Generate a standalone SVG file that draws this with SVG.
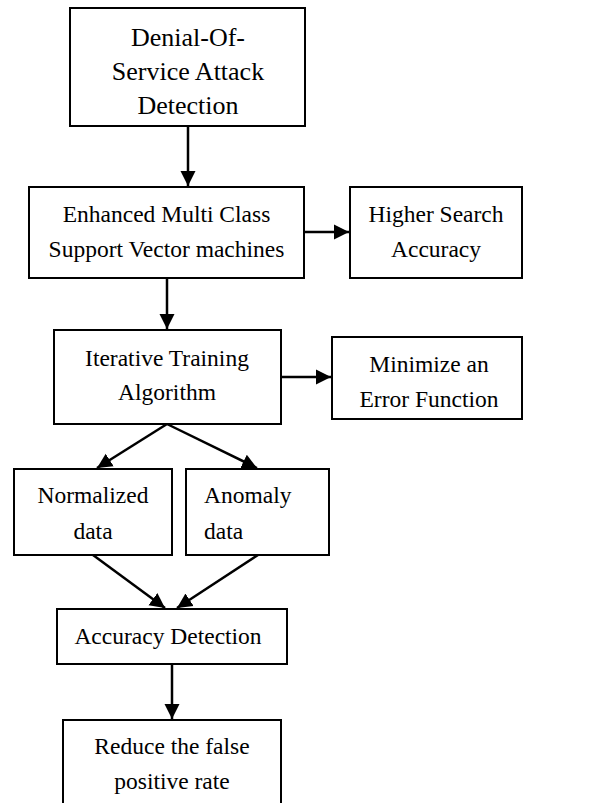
<svg xmlns="http://www.w3.org/2000/svg" width="594" height="803" viewBox="0 0 594 803">
<style>
.box{fill:#fff;stroke:#000;stroke-width:2}
.t{font-family:'Liberation Serif','Times New Roman',serif;font-size:23.5px;fill:#000;text-anchor:middle}
.big{font-size:26px}
.tl{text-anchor:start}
.c{stroke:#000;stroke-width:2.5;fill:none;marker-end:url(#ah)}
</style>
<defs>
<marker id="ah" markerUnits="userSpaceOnUse" markerWidth="16" markerHeight="16" viewBox="0 0 16 16" refX="15" refY="8" orient="auto">
<path d="M0,0.5 L15,8 L0,15.5 Z" fill="#000"/>
</marker>
</defs>
<rect width="594" height="803" fill="#fff"/>
<g id="connectors">
<line class="c" x1="188" y1="126" x2="188" y2="186"/>
<line class="c" x1="304" y1="232" x2="349" y2="232"/>
<line class="c" x1="167" y1="278" x2="167" y2="329"/>
<line class="c" x1="281" y1="377" x2="331" y2="377"/>
<line class="c" x1="167" y1="424" x2="97" y2="468"/>
<line class="c" x1="167" y1="424" x2="257" y2="468"/>
<line class="c" x1="93" y1="555" x2="165" y2="608"/>
<line class="c" x1="258" y1="555" x2="177" y2="608"/>
<line class="c" x1="172" y1="664" x2="172" y2="719"/>
</g>
<g id="n1">
<rect class="box" x="70" y="8" width="235" height="118"/>
<text class="t big" x="188" y="46">Denial-Of-</text>
<text class="t big" x="188" y="80">Service Attack</text>
<text class="t big" x="188" y="114">Detection</text>
</g>
<g id="n2">
<rect class="box" x="29" y="187" width="275" height="91"/>
<text class="t" x="166.5" y="222">Enhanced Multi Class</text>
<text class="t" x="166.5" y="257">Support Vector machines</text>
</g>
<g id="n3">
<rect class="box" x="350" y="187" width="172" height="91"/>
<text class="t" x="436" y="222">Higher Search</text>
<text class="t" x="436" y="257">Accuracy</text>
</g>
<g id="n4">
<rect class="box" x="54" y="330" width="227" height="94"/>
<text class="t" x="167" y="366">Iterative Training</text>
<text class="t" x="167" y="400">Algorithm</text>
</g>
<g id="n5">
<rect class="box" x="332" y="337" width="190" height="82"/>
<text class="t" x="429" y="372">Minimize an</text>
<text class="t" x="429" y="407">Error Function</text>
</g>
<g id="n6">
<rect class="box" x="14" y="469" width="158" height="86"/>
<text class="t" x="93" y="503">Normalized</text>
<text class="t" x="93" y="539">data</text>
</g>
<g id="n7">
<rect class="box" x="186" y="469" width="143" height="86"/>
<text class="t tl" x="204" y="503">Anomaly</text>
<text class="t tl" x="204" y="539">data</text>
</g>
<g id="n8">
<rect class="box" x="57" y="609" width="230" height="55"/>
<text class="t" x="168" y="644">Accuracy Detection</text>
</g>
<g id="n9">
<rect class="box" x="63" y="720" width="218" height="100"/>
<text class="t" x="172" y="754">Reduce the false</text>
<text class="t" x="172" y="789">positive rate</text>
</g>
</svg>
